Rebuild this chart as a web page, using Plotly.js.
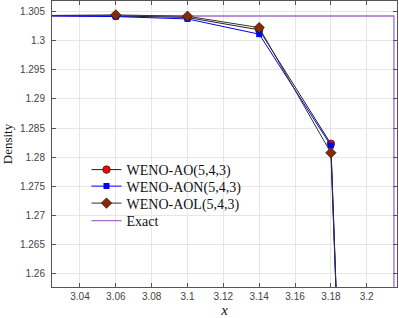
<!DOCTYPE html>
<html>
<head>
<meta charset="utf-8">
<script src="https://cdn.plot.ly/plotly-3.0.1.min.js"></script>
<style>html,body{margin:0;padding:0;background:#fff}#chart{width:399px;height:318px}</style>
</head>
<body>
<div id="chart"></div>
<script>
const xs = [3.02, 3.06, 3.10, 3.14, 3.18, 3.22];
const aoY  = [1.30432, 1.30427, 1.30400, 1.30187, 1.28230, 0.94];
const aonY = [1.30430, 1.30415, 1.30375, 1.30113, 1.28200, 0.94];
const aolY = [1.30434, 1.30444, 1.30421, 1.30226, 1.28075, 0.95];
const exactX = [3.0, 3.2152, 3.2152];
const exactY = [1.30425, 1.30425, 0.9];
const names = ['WENO-AO(5,4,3)', 'WENO-AON(5,4,3)', 'WENO-AOL(5,4,3)', 'Exact'];
const xTicks = [3.04, 3.06, 3.08, 3.1, 3.12, 3.14, 3.16, 3.18, 3.2];
const yTicks = [1.26, 1.265, 1.27, 1.275, 1.28, 1.285, 1.29, 1.295, 1.3, 1.305];

const traces = [
  {x: exactX, y: exactY, name: names[3], mode: 'lines', line: {color: '#a86cc8', width: 1.3}, legend: 'legend4'},
  {x: xs, y: aoY, name: names[0], mode: 'lines+markers', line: {color: '#222', width: 1},
   marker: {symbol: 'circle', size: 7.5, color: '#ff0000', line: {color: '#222', width: 0.8}}, legend: 'legend'},
  {x: xs, y: aonY, name: names[1], mode: 'lines+markers', line: {color: '#0000ff', width: 1},
   marker: {symbol: 'square', size: 6, color: '#0000ff', line: {color: '#0000ff', width: 0}}, legend: 'legend2'},
  {x: xs, y: aolY, name: names[2], mode: 'lines+markers', line: {color: '#333', width: 1},
   marker: {symbol: 'diamond', size: 8, color: '#8b2a00', line: {color: '#222', width: 0.8}}, legend: 'legend3'}
];

const axisCommon = {
  showline: true, linecolor: '#555', linewidth: 1, mirror: 'ticks',
  ticks: 'inside', ticklen: 4, tickcolor: '#555',
  showgrid: true, gridcolor: '#e6e6e6', gridwidth: 1, zeroline: false,
  tickfont: {family: 'Liberation Sans, Arial, sans-serif', size: 10, color: '#444'}
};

const plotH = 286, plotW = 345, mT = 1, mL = 52;
function leg(rowPx) {
  return {x: 0.10, y: 1 - (rowPx - mT) / plotH, xanchor: 'left', yanchor: 'middle',
    bgcolor: 'rgba(0,0,0,0)', borderwidth: 0,
    font: {family: 'Liberation Serif, serif', size: 14, color: '#111'}, itemwidth: 30};
}

const layout = {
  width: 399, height: 318,
  margin: {l: mL, r: 2, t: mT, b: 31},
  paper_bgcolor: '#fff', plot_bgcolor: '#fff',
  showlegend: true,
  legend: leg(170),
  legend2: leg(186.5),
  legend3: leg(203.5),
  legend4: leg(221),
  shapes: [{type: 'rect', layer: 'between', xref: 'paper', yref: 'paper',
    x0: (97 - mL) / plotW, x1: (252 - mL) / plotW,
    y0: 1 - (231 - mT) / plotH, y1: 1 - (159 - mT) / plotH,
    fillcolor: '#ffffff', line: {width: 0}}],
  xaxis: Object.assign({}, axisCommon, {range: [3.0244, 3.2169], tickvals: xTicks,
    ticktext: xTicks.map(v => String(v)),
    title: {text: '<i>x</i>', font: {family: 'Liberation Serif, serif', size: 15, color: '#111'}, standoff: 4}}),
  yaxis: Object.assign({}, axisCommon, {range: [1.2577, 1.30683], tickvals: yTicks,
    ticktext: yTicks.map(v => String(v)), ticklabelstandoff: 4,
    title: {text: 'Density', font: {family: 'Liberation Serif, serif', size: 13, color: '#111'}, standoff: 6}})
};

Plotly.newPlot('chart', traces, layout, {staticPlot: true, displayModeBar: false});
</script>
</body>
</html>
